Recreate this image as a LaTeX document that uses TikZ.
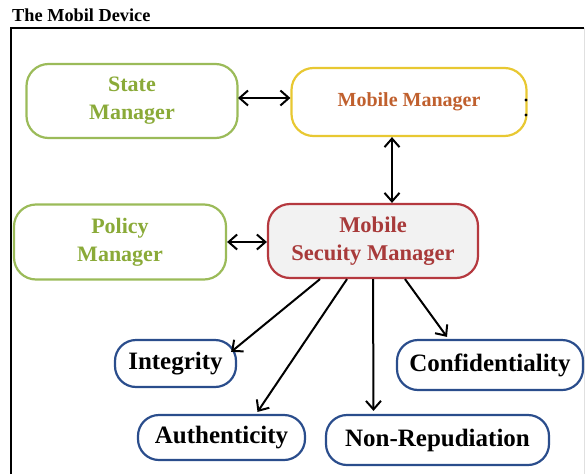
\documentclass[tikz,border=0pt]{standalone}
\usepackage{fontspec}
\setmainfont{Liberation Serif}
\usetikzlibrary{arrows.meta}
\definecolor{grnb}{HTML}{9BBB59}
\definecolor{grnt}{HTML}{8AAA38}
\definecolor{yelb}{HTML}{E8C832}
\definecolor{orgt}{HTML}{C0602E}
\definecolor{redb}{HTML}{B5393F}
\definecolor{redt}{HTML}{A83A3A}
\definecolor{msmfill}{HTML}{F2F2F2}
\definecolor{blub}{HTML}{2A4D8C}
\tikzset{
  box/.style={draw, line width=2.2pt, rounded corners=22pt, inner sep=0pt, align=center, font=\bfseries},
  greenbox/.style={box, draw=grnb, text=grnt, font=\fontsize{22}{28}\selectfont\bfseries},
  pill/.style={draw=blub, line width=2.2pt, rounded corners=21pt, inner sep=0pt, align=center, text=black, font=\fontsize{25}{30}\selectfont\bfseries},
  tip/.tip={Straight Barb[length=8.5pt,width=15pt,line width=2pt]},
  link/.style={line width=2pt, -tip},
  dlink/.style={line width=2pt, tip-tip}
}
\begin{document}
\begin{tikzpicture}[x=1pt,y=-1pt]
\useasboundingbox (0,0) rectangle (586,474);
\node[anchor=base west, inner sep=0pt, font=\fontsize{18.3}{20}\selectfont\bfseries] (title) at (12,21) {The Mobil Device};
\coordinate (fl) at (11,474);
\coordinate (ftl) at (11,28);
\coordinate (ftr) at (584,28);
\draw[line width=2.2pt] (fl) -- (ftl) -- (ftr);
\draw[line width=0.6pt, black!12] (ftr) -- (584,474);

\node[greenbox, minimum width=211pt, minimum height=74pt] (sm) at (132,101) {State\\Manager};
\node[box, draw=yelb, text=orgt, minimum width=235pt, minimum height=68pt, font=\fontsize{20}{24}\selectfont\bfseries] (mm) at (409,102) {Mobile Manager};
\node[greenbox, minimum width=212pt, minimum height=75pt] (pm) at (120,242) {Policy\\Manager};
\node[box, draw=redb, fill=msmfill, text=redt, minimum width=210pt, minimum height=74pt, font=\fontsize{22.5}{28}\selectfont\bfseries] (msm) at (373,241) {Mobile\\Secuity Manager};

\node[pill, minimum width=121pt, minimum height=47pt] (int) at (175.5,363.5) {Integrity};
\node[pill, minimum width=186pt, minimum height=50pt] (conf) at (490,365) {Confidentiality};
\node[pill, minimum width=167pt, minimum height=45pt] (auth) at (221.5,437.5) {Authenticity};
\node[pill, minimum width=223pt, minimum height=50pt] (nr) at (437.5,440) {Non-Repudiation};

\fill (526,100) circle (1.6pt);
\fill (526,115) circle (1.6pt);

\draw[dlink] (238,98) coordinate (a1) -- (a1 -| mm.west);
\coordinate (mmb) at ([xshift=-17pt]mm.south);
\draw[dlink] (mmb) -- (mmb |- msm.north);
\draw[dlink] (pm.east) -- (pm.east -| msm.west);

\draw[link] ([xshift=-53pt]msm.south) -- ([xshift=-6pt,yshift=-13pt]int.north east);
\draw[link] ([xshift=-26pt]msm.south) -- ([xshift=36pt,yshift=2pt]auth.north);
\draw[link] ([xshift=0pt]msm.south) -- ([xshift=-64pt,yshift=3pt]nr.north);
\draw[link] ([xshift=32pt]msm.south) -- ([xshift=-43pt,yshift=2pt]conf.north);
\end{tikzpicture}
\end{document}
